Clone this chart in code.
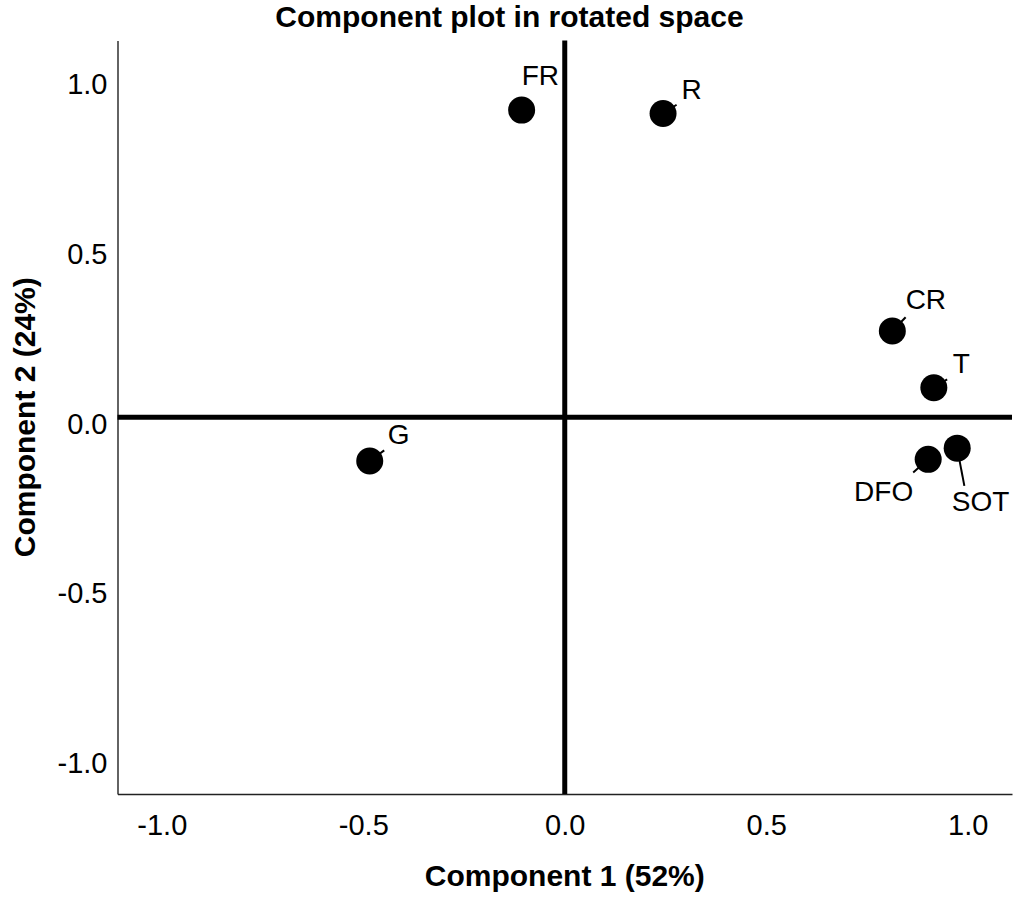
<!DOCTYPE html>
<html>
<head>
<meta charset="utf-8">
<script src="https://cdn.jsdelivr.net/npm/d3@7"></script>
<style>
	html, body { margin: 0; padding: 0; background: #fff; }
	svg { display: block; font-family: "Liberation Sans", Arial, Helvetica, sans-serif; }
</style>
</head>
<body>
<div id="chart"></div>
<script>
// loadings
const variables = ['FR', 'R', 'CR', 'T', 'DFO', 'SOT', 'G']
const component1 = [-0.107, 0.244, 0.813, 0.916, 0.902, 0.974, -0.484]
const component2 = [0.905, 0.895, 0.254, 0.087, -0.124, -0.091, -0.129]
const tickValues = [-1.0, -0.5, 0.0, 0.5, 1.0]

const title = 'Component plot in rotated space'
const xTitle = 'Component 1 (52%)'
const yTitle = 'Component 2 (24%)'

// where each label sits relative to its point (px), like the repelled labels of the original
const labelNudge = {
	FR: [0, -24.7, 'start'],
	R: [18.4, -14.7, 'start'],
	CR: [13.3, -21.7, 'start'],
	T: [19, -14.3, 'start'],
	DFO: [-15, 41.7, 'end'],
	SOT: [-5.4, 62.7, 'start'],
	G: [18, -16.7, 'start']
}

const width = 1014
const height = 905
const margin = { top: 40.5, right: 2, bottom: 111, left: 117.5 }
const radius = 13.5

const svg = d3
	.select('#chart')
	.append('svg')
	.attr('width', width)
	.attr('height', height)

const x = d3
	.scaleLinear()
	.domain([-1.11, 1.11])
	.range([margin.left, width - margin.right])

const y = d3
	.scaleLinear()
	.domain([-1.11, 1.11])
	.range([height - margin.bottom, margin.top])

const fmt = d => d.toFixed(1)

// axes
svg
	.append('g')
	.attr('transform', `translate(0, ${height - margin.bottom})`)
	.call(
		d3
			.axisBottom(x)
			.tickValues(tickValues)
			.tickFormat(fmt)
			.tickSize(0)
			.tickPadding(20)
	)

const yAxis = svg
	.append('g')
	.attr('transform', `translate(${margin.left}, 0)`)
	.call(
		d3
			.axisLeft(y)
			.tickValues(tickValues)
			.tickFormat(fmt)
			.tickSize(0)
			.tickPadding(10)
	)

yAxis.selectAll('text').attr('dy', 16)

svg
	.selectAll('.domain')
	.attr('stroke', '#222')
	.attr('stroke-width', 1.4)

svg
	.selectAll('.tick text')
	.attr('fill', '#000')
	.style('font-size', '29px')
	.style('font-family', '"Liberation Sans", Arial, sans-serif')

// reference lines through the origin
svg
	.append('line')
	.attr('x1', x(0))
	.attr('x2', x(0))
	.attr('y1', y.range()[1])
	.attr('y2', y.range()[0])
	.attr('stroke', '#000')
	.attr('stroke-width', 5)

svg
	.append('line')
	.attr('x1', x.range()[0])
	.attr('x2', x.range()[1])
	.attr('y1', y(0))
	.attr('y2', y(0))
	.attr('stroke', '#000')
	.attr('stroke-width', 5)

const points = variables.map((name, i) => ({
	name,
	cx: x(component1[i]),
	cy: y(component2[i])
}))

const leaders = svg.append('g')
const dots = svg.append('g')
const labels = svg.append('g')

labels
	.selectAll('text')
	.data(points)
	.enter()
	.append('text')
	.attr('x', d => d.cx + labelNudge[d.name][0])
	.attr('y', d => d.cy + labelNudge[d.name][1])
	.attr('text-anchor', d => labelNudge[d.name][2])
	.style('font-size', '28px')
	.attr('fill', '#000')
	.text(d => d.name)
	.each(function(d) {
		d.box = this.getBBox()
	})

// leader from the point towards the label, stopping at the label box
function leaderEnd(d) {
	const pad = 0
	const b = d.box
	const x0 = b.x - pad
	const x1 = b.x + b.width + pad
	const y0 = b.y - pad
	const y1 = b.y + b.height + pad
	const nx = Math.max(x0, Math.min(d.cx, x1))
	const ny = Math.max(y0, Math.min(d.cy, y1))
	const tx = nx + 0.35 * (b.x + b.width / 2 - nx)
	const ty = ny + 0.35 * (b.y + b.height / 2 - ny)
	const dx = tx - d.cx
	const dy = ty - d.cy
	let t = 1
	if (dx !== 0) {
		const edge = dx > 0 ? x0 : x1
		const tt = (edge - d.cx) / dx
		if (tt > 0 && tt < t) t = tt
	}
	if (dy !== 0) {
		const edge = dy > 0 ? y0 : y1
		const tt = (edge - d.cy) / dy
		if (tt > 0 && tt < t) t = tt
	}
	return [d.cx + dx * t, d.cy + dy * t]
}

leaders
	.selectAll('line')
	.data(points)
	.enter()
	.append('line')
	.attr('x1', d => d.cx)
	.attr('y1', d => d.cy)
	.attr('x2', d => leaderEnd(d)[0])
	.attr('y2', d => leaderEnd(d)[1])
	.attr('stroke', '#000')
	.attr('stroke-width', 2)

dots
	.selectAll('circle')
	.data(points)
	.enter()
	.append('circle')
	.attr('cx', d => d.cx)
	.attr('cy', d => d.cy)
	.attr('r', radius)
	.attr('fill', '#000')

// titles
svg
	.append('text')
	.attr('x', 509.5)
	.attr('y', 27)
	.attr('text-anchor', 'middle')
	.style('font-size', '30px')
	.style('font-weight', 'bold')
	.text(title)

svg
	.append('text')
	.attr('x', (x.range()[0] + x.range()[1]) / 2)
	.attr('y', 886)
	.attr('text-anchor', 'middle')
	.style('font-size', '30px')
	.style('font-weight', 'bold')
	.text(xTitle)

svg
	.append('text')
	.attr('transform', `translate(35, ${(y.range()[0] + y.range()[1]) / 2}) rotate(-90)`)
	.attr('text-anchor', 'middle')
	.style('font-size', '30px')
	.style('font-weight', 'bold')
	.text(yTitle)
</script>
</body>
</html>
